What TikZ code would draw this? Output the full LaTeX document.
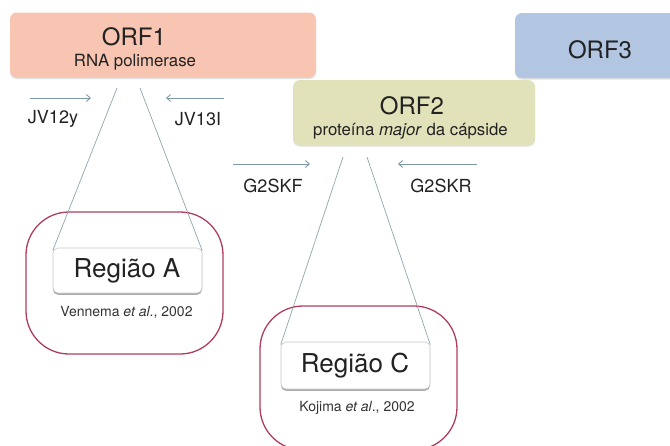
\documentclass[tikz,border=0pt]{standalone}
\usepackage{fontspec}
\setmainfont{TeX Gyre Heros}
\usetikzlibrary{shadows,arrows.meta}
\definecolor{orfonefill}{HTML}{F7C5B1}
\definecolor{orftwofill}{HTML}{E1E2B9}
\definecolor{orfthreefill}{HTML}{B2C6E2}
\definecolor{regborder}{HTML}{B03E5E}
\definecolor{arrowcol}{HTML}{7E99A5}
\definecolor{linecol}{HTML}{8FA5AE}
\definecolor{txtcol}{HTML}{222222}
\begin{document}
\begin{tikzpicture}[x=1pt,y=-1pt,
  orfbox/.style={rectangle, rounded corners=7pt, draw=none, inner sep=0pt,
    drop shadow={shadow xshift=0pt, shadow yshift=-1.5pt, opacity=0.25}},
  regbox/.style={rectangle, rounded corners=5pt, fill=white, draw=black!22, line width=0.6pt,
    minimum width=149pt, inner sep=0pt,
    drop shadow={shadow xshift=0pt, shadow yshift=-1.8pt, fill=black!55, opacity=0.6}},
  redframe/.style={draw=regborder, line width=1.3pt, rounded corners=43pt},
  title/.style={text=txtcol, font=\fontsize{24}{28}\selectfont, inner sep=0pt},
  subtitle/.style={text=txtcol, font=\fontsize{16.8}{20}\selectfont, inner sep=0pt},
  primer/.style={text=txtcol, font=\fontsize{18}{22}\selectfont, inner sep=0pt},
  regtext/.style={text=txtcol, font=\fontsize{26}{30}\selectfont, inner sep=0pt},
  cite/.style={text=black!80, font=\fontsize{14}{17}\selectfont, inner sep=0pt},
  primerarrow/.style={draw=arrowcol, line width=0.9pt, -{Straight Barb[length=4pt,width=7pt]}},
  zoomline/.style={draw=linecol, line width=0.7pt}
]
\useasboundingbox (0,0) rectangle (670,445);

% red frames
\draw[redframe] (26,212) rectangle (223,354);
\draw[redframe] (260,306) rectangle (457,450);

% ORF boxes
\node[orfbox, fill=orfthreefill, minimum width=170pt, minimum height=65pt] (orf3) at (600,45.5) {};
\node[orfbox, fill=orfonefill, minimum width=306pt, minimum height=65pt] (orf1) at (163,45) {};
\node[orfbox, fill=orftwofill, minimum width=242pt, minimum height=65pt] (orf2) at (414,112.5) {};

\node[title] (orf1t) at (134,37) {ORF1};
\node[subtitle] (orf1s) at (135,62) {RNA polimerase};
\node[title] (orf2t) at (412,106) {ORF2};
\node[subtitle] (orf2s) at (410.5,131) {proteína \textit{major} da cápside};
\node[title] (orf3t) at (600,49.5) {ORF3};

% primers
\coordinate (jv12a) at (30,98);
\coordinate (jv12b) at (91,98);
\coordinate (jv13a) at (224,98);
\coordinate (jv13b) at (166,98);
\coordinate (g2fa) at (233,164);
\coordinate (g2fb) at (310,164);
\coordinate (g2ra) at (477,164);
\coordinate (g2rb) at (398,164);
\draw[primerarrow] (jv12a) -- (jv12b);
\draw[primerarrow] (jv13a) -- (jv13b);
\draw[primerarrow] (g2fa) -- (g2fb);
\draw[primerarrow] (g2ra) -- (g2rb);
\node[primer] (jv12) at (53,119) {JV12y};
\node[primer] (jv13) at (198,119) {JV13I};
\node[primer] (g2f) at (273,186) {G2SKF};
\node[primer] (g2r) at (441,186) {G2SKR};

% region boxes
\node[regbox, minimum height=45pt] (rega) at (127.5,270.5) {};
\node[regtext] (regat) at (127,271) {Região A};
\node[cite] (citea) at (126.5,312) {Vennema \textit{et al}., 2002};

\node[regbox, minimum height=47pt] (regc) at (355.5,365.5) {};
\node[regtext] (regct) at (355,366) {Região C};
\node[cite] (citec) at (357,408) {Kojima \textit{et al}., 2002};

% zoom lines
\coordinate (o1l) at (117,88);
\coordinate (o1r) at (140,88);
\coordinate (o2l) at (343,157);
\coordinate (o2r) at (367,157);
\draw[zoomline] (o1l) -- ([yshift=-3pt]rega.north west);
\draw[zoomline] (o1r) -- ([yshift=-3pt]rega.north east);
\draw[zoomline] (o2l) -- ([yshift=-3pt]regc.north west);
\draw[zoomline] (o2r) -- ([yshift=-3pt]regc.north east);
\end{tikzpicture}
\end{document}
